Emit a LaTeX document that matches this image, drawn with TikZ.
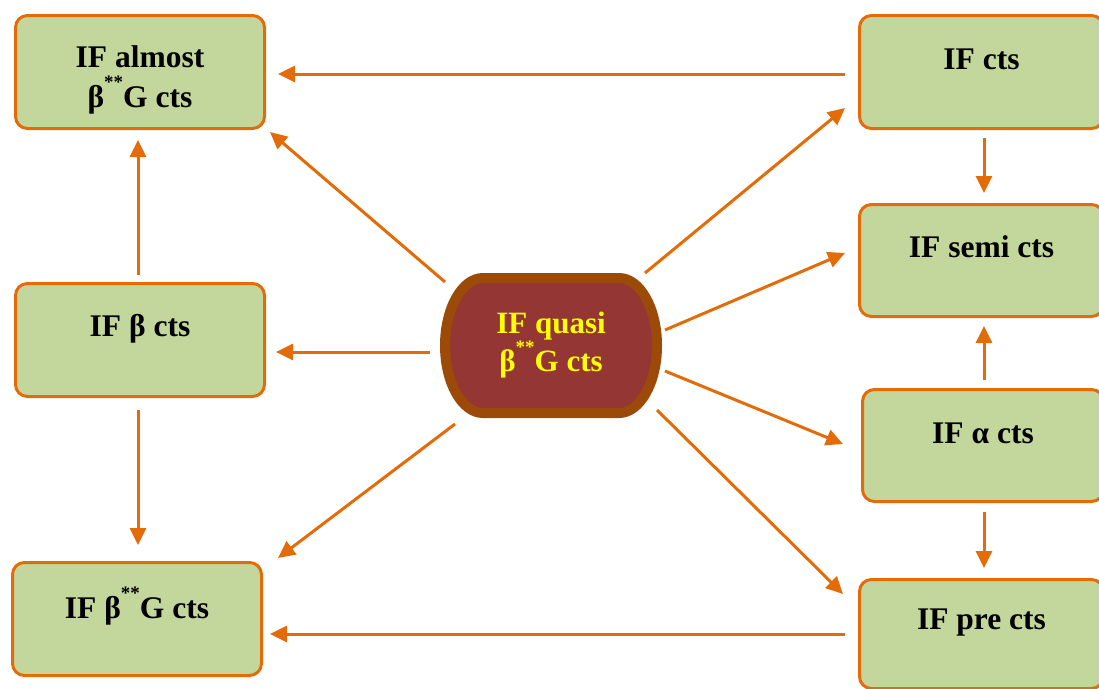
\documentclass[tikz,border=0pt]{standalone}
\usepackage{fontspec}
\setmainfont{Liberation Serif}
\usetikzlibrary{arrows.meta}
\definecolor{boxfill}{HTML}{C3D69B}
\definecolor{boxline}{HTML}{E36C09}
\definecolor{cfill}{HTML}{943634}
\definecolor{cline}{HTML}{9C4A08}
\definecolor{ctext}{HTML}{FFFF00}
\newcommand{\dstar}{\raisebox{0.6em}{\fontsize{19}{19}\selectfont **}}
\tikzset{
  box/.style={draw=boxline, fill=boxfill, line width=3pt, rounded corners=12pt, outer sep=1.5pt, inner sep=0pt},
  lbl/.style={font=\bfseries\fontsize{31.5}{40}\selectfont, align=center, inner sep=0pt, text=black},
  center/.style={outer sep=0pt, inner sep=0pt, minimum width=222pt, minimum height=145pt,
     text=ctext, align=center, font=\bfseries\fontsize{31}{37}\selectfont},
  cshape/.style={draw=cline, fill=cfill, line width=10pt},
  arr/.style={draw=boxline, line width=3pt, -{Triangle[length=17pt,width=16pt]}}
}
\begin{document}
\begin{tikzpicture}[x=1pt,y=-1pt]
\useasboundingbox (0,0) rectangle (1099,688);
% boxes
\node[box, minimum width=249pt, minimum height=113pt] (alm) at (140,72) {};
\node[box, minimum width=244pt, minimum height=113pt] (cts) at (981.5,72) {};
\node[box, minimum width=244pt, minimum height=112pt] (semi) at (981.5,260.5) {};
\node[box, minimum width=241pt, minimum height=112pt] (alp) at (983,445.5) {};
\node[box, minimum width=244pt, minimum height=109pt] (pre) at (981.5,634) {};
\node[box, minimum width=249pt, minimum height=113pt] (bet) at (140,340) {};
\node[box, minimum width=249pt, minimum height=113pt] (bg) at (137,619) {};
% centre shape
\node[center] (c) at (551,345.5) {};
\draw[cshape] ([shift={(-68,-67.5)}]c.center) -- ([shift={(68,-67.5)}]c.center)
   arc[start angle=-90, end angle=90, x radius=38, y radius=67.5]
   -- ([shift={(-68,67.5)}]c.center)
   arc[start angle=90, end angle=270, x radius=38, y radius=67.5] -- cycle;
\node[center] (ct) at (551,345) {IF quasi\\β\dstar G cts};
% labels
\node[lbl] (talm) at ([yshift=-8pt]alm.center) {IF almost\\β\dstar G cts};
\node[lbl] (tcts) at ([yshift=-45.5pt]cts.north) {IF cts};
\node[lbl] (tsemi) at ([yshift=-43.5pt]semi.north) {IF semi cts};
\node[lbl] (talp) at ([yshift=-45.5pt]alp.north) {IF α cts};
\node[lbl] (tpre) at ([yshift=-44.5pt]pre.north) {IF pre cts};
\node[lbl] (tbet) at ([yshift=-46.5pt]bet.north) {IF β cts};
\node[lbl] (tbg) at ([yshift=-45.5pt]bg.north) {IF β\dstar G cts};
% arrows
\draw[arr] ([shift={(-13,2)}]cts.west) -- ([shift={(12,2)}]alm.east);
\draw[arr] ([shift={(5,9)}]c.north west) -- ([shift={(4,2)}]alm.south east);
\draw[arr] ([shift={(-2,-7)}]bet.north) -- ([shift={(-2,10)}]alm.south);
\draw[arr] ([shift={(-10,6.5)}]c.west) -- ([shift={(10,12)}]bet.east);
\draw[arr] ([shift={(-2,12)}]bet.south) -- ([shift={(1,-16)}]bg.north);
\draw[arr] ([shift={(15,6)}]c.south west) -- ([shift={(15,-3)}]bg.north east);
\draw[arr] ([shift={(-13,0)}]pre.west) -- ([shift={(7,15)}]bg.east);
\draw[arr] ([shift={(-17,0)}]c.north east) -- ([shift={(-13,-22)}]cts.south west);
\draw[arr] ([shift={(2.5,8)}]cts.south) -- ([shift={(2.5,-10)}]semi.north);
\draw[arr] ([shift={(3,-15.5)}]c.east) -- ([shift={(-13,-7.5)}]semi.west);
\draw[arr] ([shift={(1,-8)}]alp.north) -- ([shift={(2.5,8)}]semi.south);
\draw[arr] ([shift={(3,25.5)}]c.east) -- ([shift={(-18,-1.5)}]alp.west);
\draw[arr] ([shift={(1,9)}]alp.south) -- ([shift={(2.5,-10)}]pre.north);
\draw[arr] ([shift={(-5,-8)}]c.south east) -- ([shift={(-15,16)}]pre.north west);
\end{tikzpicture}
\end{document}
